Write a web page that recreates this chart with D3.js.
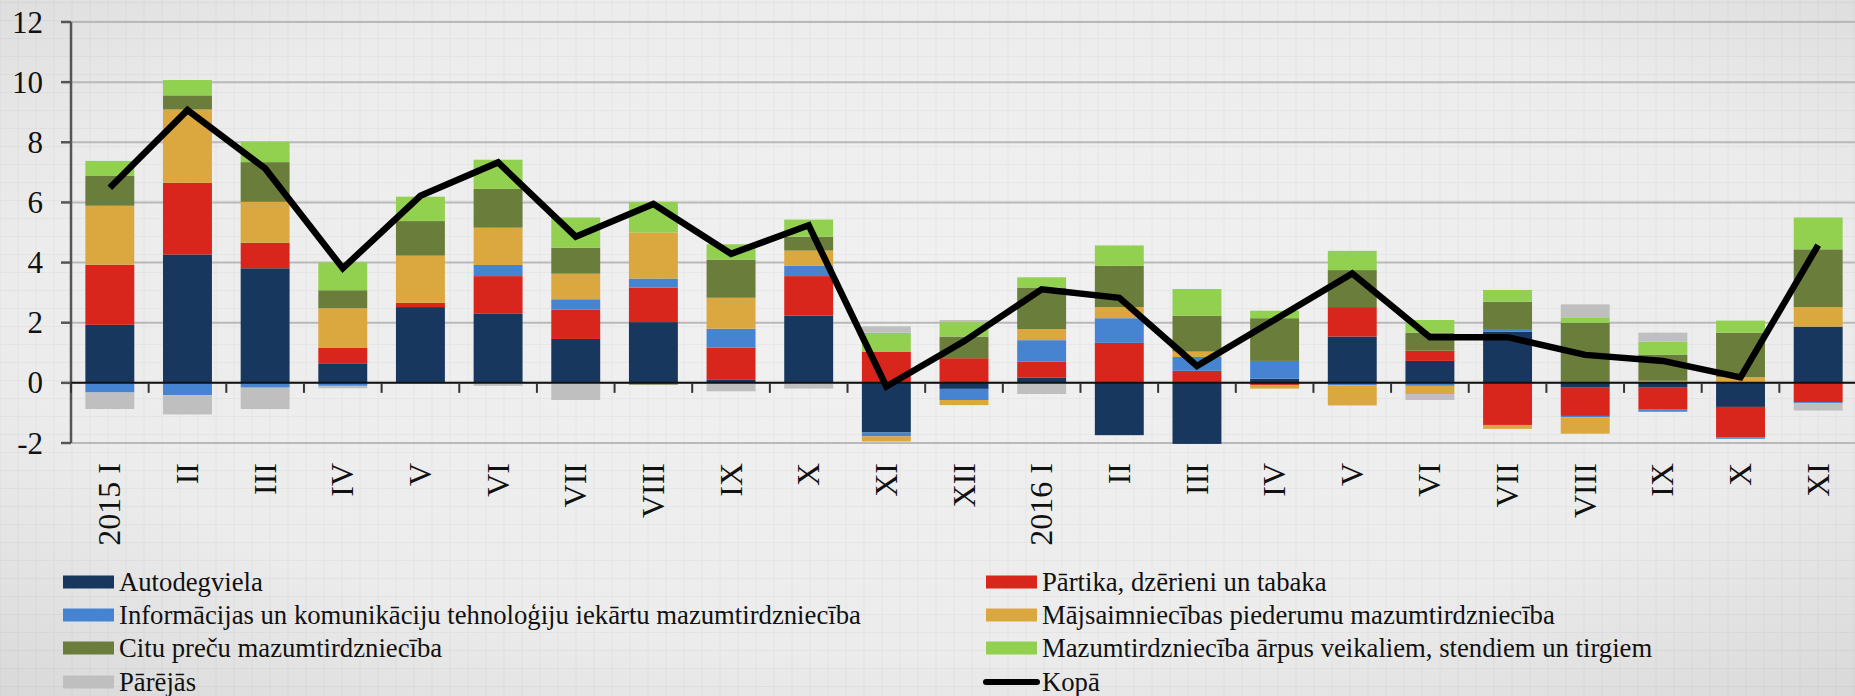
<!DOCTYPE html>
<html>
<head>
<meta charset="utf-8">
<script src="https://cdn.jsdelivr.net/npm/d3@7"></script>
<style>
  html, body { margin: 0; padding: 0; background: #ececec; }
  svg { display: block; }
  text { font-family: "Liberation Serif", "Times New Roman", serif; fill: #111; }
</style>
</head>
<body>
<div id="chart"></div>
<script>
// month labels (2015 I .. 2016 XI)
const months = ["2015 I", "II", "III", "IV", "V", "VI", "VII", "VIII", "IX", "X", "XI", "XII",
                "2016 I", "II", "III", "IV", "V", "VI", "VII", "VIII", "IX", "X", "XI"];

// contributions, percentage points
const autodegviela = [1.93, 4.27, 3.81, 0.65, 2.52, 2.31, 1.46, 2.02, 0.10, 2.24, -1.65, -0.20,
                      0.18, -1.74, -2.03, 0.14, 1.54, 0.73, 1.70, -0.16, -0.16, -0.80, 1.87];
const partika = [2.00, 2.38, 0.85, 0.51, 0.14, 1.24, 0.98, 1.15, 1.07, 1.31, 1.04, 0.82,
                 0.52, 1.33, 0.40, -0.07, 0.98, 0.34, -1.40, -0.94, -0.73, -1.02, -0.64];
const ikt = [-0.32, -0.41, -0.16, -0.10, 0, 0.37, 0.34, 0.30, 0.63, 0.35, -0.13, -0.37,
             0.72, 0.82, 0.46, 0.59, -0.08, -0.10, 0.09, -0.04, -0.07, -0.04, -0.04];
const majsaimn = [1.96, 2.44, 1.36, 1.32, 1.57, 1.24, 0.85, 1.53, 1.03, 0.50, -0.17, -0.17,
                  0.37, 0.37, 0.18, -0.12, -0.67, -0.27, -0.13, -0.55, 0.07, 0.19, 0.65];
const citu = [0.99, 0.47, 1.32, 0.60, 1.15, 1.29, 0.86, -0.06, 1.27, 0.46, 0, 0.72,
              1.38, 1.37, 1.19, 1.42, 1.23, 0.60, 0.91, 2.00, 0.87, 1.48, 1.92];
const arpusVeikaliem = [0.50, 0.51, 0.68, 0.93, 0.81, 0.97, 1.01, 1.02, 0.51, 0.57, 0.63, 0.48,
                        0.34, 0.68, 0.89, 0.25, 0.64, 0.42, 0.39, 0.18, 0.43, 0.40, 1.06];
const parejas = [-0.55, -0.64, -0.71, -0.08, 0, -0.10, -0.57, 0, -0.28, -0.19, 0.21, 0.07,
                 -0.37, 0, 0, 0, 0, -0.20, 0, 0.43, 0.30, 0, -0.24];
const kopa = [6.49, 9.07, 7.13, 3.81, 6.22, 7.33, 4.86, 5.95, 4.29, 5.24, -0.12, 1.38,
              3.11, 2.83, 0.56, 2.10, 3.64, 1.52, 1.52, 0.93, 0.73, 0.18, 4.58];

const seriesNames = ["Autodegviela", "Pārtika, dzērieni un tabaka",
  "Informācijas un komunikāciju tehnoloģiju iekārtu mazumtirdzniecība",
  "Mājsaimniecības piederumu mazumtirdzniecība", "Citu preču mazumtirdzniecība",
  "Mazumtirdzniecība ārpus veikaliem, stendiem un tirgiem", "Pārējās"];
const seriesColors = ["#17375e", "#d9261c", "#4684d2", "#dba840", "#6a7d3a", "#92d050", "#bfbfbf"];
const lineName = "Kopā";
const yTicks = [-2, 0, 2, 4, 6, 8, 10, 12];

const W = 1855, H = 696;
const margin = {left: 71, right: -2, top: 22, bottom: 253};

const svg = d3.select("#chart").append("svg")
    .attr("width", W)
    .attr("height", H);

// background: soft vignette + graph-paper grid
const defs = svg.append("defs");
const grad = defs.append("radialGradient")
    .attr("id", "bg").attr("cx", "50%").attr("cy", "45%").attr("r", "75%");
grad.append("stop").attr("offset", "0%").attr("stop-color", "#f1f1f1");
grad.append("stop").attr("offset", "65%").attr("stop-color", "#ececec");
grad.append("stop").attr("offset", "100%").attr("stop-color", "#d8d8d8");

const pat = defs.append("pattern")
    .attr("id", "paper").attr("width", 18).attr("height", 18)
    .attr("patternUnits", "userSpaceOnUse").attr("x", 0.5).attr("y", 3);
pat.append("path")
    .attr("d", "M18 0 V18 M0 18 H18")
    .attr("stroke", "rgba(0,0,0,0.045)")
    .attr("stroke-width", 1.5)
    .attr("fill", "none");

svg.append("rect").attr("width", W).attr("height", H).attr("fill", "url(#bg)");
svg.append("rect").attr("width", W).attr("height", H).attr("fill", "url(#paper)");

// scales
const x = d3.scaleBand()
    .domain(d3.range(months.length))
    .range([margin.left, W - margin.right])
    .paddingInner(0.37)
    .paddingOuter(0.185);

// -2 sits on 443, 12 on 22
const y = d3.scaleLinear()
    .domain([-2, 12])
    .range([443, margin.top]);

// horizontal gridlines
svg.append("g").selectAll("line")
    .data(yTicks)
    .join("line")
    .attr("x1", margin.left)
    .attr("x2", W)
    .attr("y1", d => y(d))
    .attr("y2", d => y(d))
    .attr("stroke", "#b9b9b9")
    .attr("stroke-width", 2);

// stacked bars
const table = months.map((m, i) => ({
  i: i,
  s0: autodegviela[i], s1: partika[i], s2: ikt[i], s3: majsaimn[i],
  s4: citu[i], s5: arpusVeikaliem[i], s6: parejas[i]
}));
const keys = ["s0", "s1", "s2", "s3", "s4", "s5", "s6"];
const stacked = d3.stack().keys(keys).offset(d3.stackOffsetDiverging)(table);

svg.append("g").selectAll("g")
    .data(stacked)
    .join("g")
    .attr("fill", (d, k) => seriesColors[k])
    .selectAll("rect")
    .data(d => d)
    .join("rect")
    .attr("x", d => x(d.data.i))
    .attr("width", x.bandwidth())
    .attr("y", d => y(Math.max(d[0], d[1])))
    .attr("height", d => Math.abs(y(d[0]) - y(d[1])));

// y axis
const yAxis = svg.append("g");
yAxis.append("line")
    .attr("x1", margin.left).attr("x2", margin.left)
    .attr("y1", y(12)).attr("y2", y(-2))
    .attr("stroke", "#555").attr("stroke-width", 2.5);
yAxis.selectAll("line.tick")
    .data(yTicks)
    .join("line")
    .attr("class", "tick")
    .attr("x1", margin.left - 10).attr("x2", margin.left)
    .attr("y1", d => y(d)).attr("y2", d => y(d))
    .attr("stroke", "#555").attr("stroke-width", 2.5);
yAxis.selectAll("text")
    .data(yTicks)
    .join("text")
    .attr("x", 43)
    .attr("y", d => y(d))
    .attr("dy", "0.34em")
    .attr("text-anchor", "end")
    .style("font-size", "31px")
    .text(d => d);

// x axis at zero
const xAxis = svg.append("g");
xAxis.append("line")
    .attr("x1", margin.left).attr("x2", W)
    .attr("y1", y(0)).attr("y2", y(0))
    .attr("stroke", "#111").attr("stroke-width", 2);
xAxis.selectAll("line.tick")
    .data(d3.range(months.length + 1))
    .join("line")
    .attr("class", "tick")
    .attr("x1", i => x(0) - x.step() * x.paddingOuter() + i * x.step())
    .attr("x2", i => x(0) - x.step() * x.paddingOuter() + i * x.step())
    .attr("y1", y(0)).attr("y2", y(0) + 10)
    .attr("stroke", "#333").attr("stroke-width", 2);
xAxis.selectAll("text")
    .data(months)
    .join("text")
    .attr("transform", (d, i) => `translate(${x(i) + x.bandwidth() / 2},463) rotate(-90)`)
    .attr("dy", "0.33em")
    .attr("text-anchor", "end")
    .style("font-size", "32px")
    .text(d => d);

// total line
svg.append("path")
    .datum(kopa)
    .attr("fill", "none")
    .attr("stroke", "#000")
    .attr("stroke-width", 6.5)
    .attr("stroke-linejoin", "miter")
    .attr("d", d3.line()
        .x((d, i) => x(i) + x.bandwidth() / 2)
        .y(d => y(d)));

// legend: two columns, row-major
const legendItems = seriesNames.map((n, k) => ({name: n, color: seriesColors[k], line: false}))
    .concat([{name: lineName, color: "#000", line: true}]);
const colX = [63, 986];
const rowY = [582, 615, 648, 682];

const legend = svg.append("g").selectAll("g")
    .data(legendItems)
    .join("g")
    .attr("transform", (d, k) => `translate(${colX[k % 2]},${rowY[Math.floor(k / 2)]})`);

legend.filter(d => !d.line).append("rect")
    .attr("x", 0).attr("y", -6.5)
    .attr("width", 51).attr("height", 13)
    .attr("fill", d => d.color);
legend.filter(d => d.line).append("line")
    .attr("x1", 0).attr("x2", 51)
    .attr("stroke", "#000").attr("stroke-width", 6)
    .attr("stroke-linecap", "round");
legend.append("text")
    .attr("x", 56)
    .attr("dy", "0.33em")
    .style("font-size", "26.7px")
    .text(d => d.name);
</script>
</body>
</html>
